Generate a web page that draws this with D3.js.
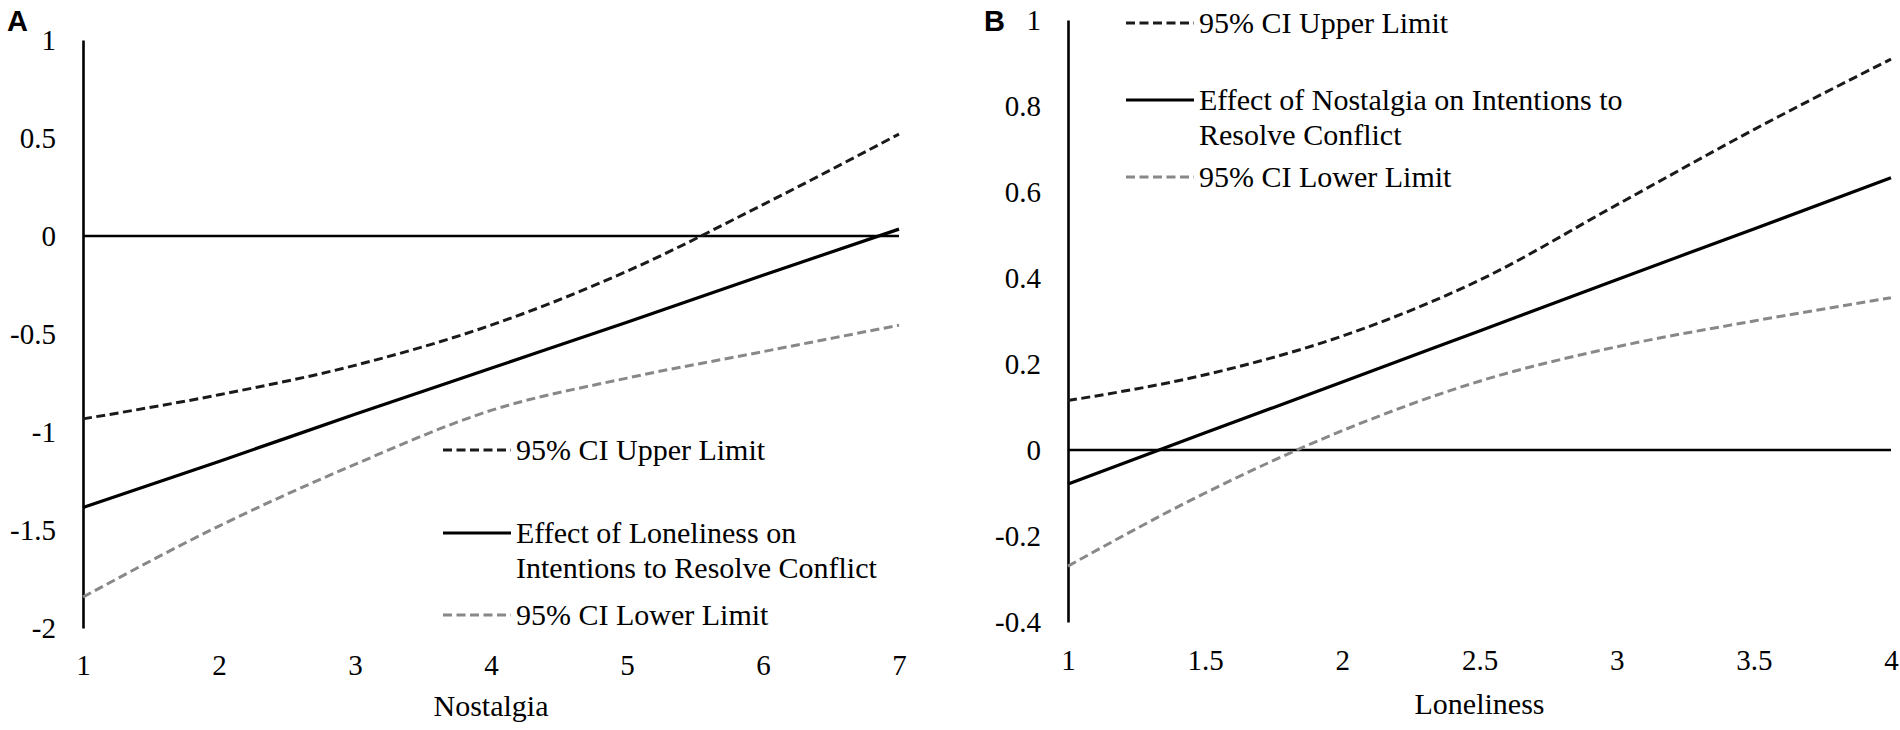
<!DOCTYPE html>
<html>
<head>
<meta charset="utf-8">
<script src="https://cdn.jsdelivr.net/npm/d3@7"></script>
<style>
  html, body { margin: 0; padding: 0; background: #ffffff; }
  svg { display: block; }
  svg text { font-family: "Liberation Serif", "Times New Roman", serif; }
  svg text.letter { font-family: "Liberation Sans", Arial, sans-serif; font-weight: bold; }
</style>
</head>
<body>
<svg id="chart" width="1900" height="730"></svg>
<script>
// ---------- Panel A data ----------
const panelAX = [1, 2, 3, 4, 5, 6, 7];
const panelAUpper = [-0.933, -0.81, -0.66, -0.455, -0.18, 0.16, 0.52];
const panelAEffect = [-1.385, -1.15, -0.91, -0.675, -0.44, -0.20, 0.035];
const panelALower = [-1.842, -1.48, -1.165, -0.89, -0.725, -0.59, -0.455];
const panelAYTicks = [1, 0.5, 0, -0.5, -1, -1.5, -2];
const panelAXTicks = [1, 2, 3, 4, 5, 6, 7];
const panelALegend = [
  ["95% CI Upper Limit"],
  ["Effect of Loneliness on", "Intentions to Resolve Conflict"],
  ["95% CI Lower Limit"]
];
const panelATitle = "Nostalgia";

// ---------- Panel B data ----------
const panelBX = [1, 1.5, 2, 2.5, 3, 3.5, 4];
const panelBUpper = [0.115, 0.175, 0.265, 0.395, 0.57, 0.745, 0.909];
const panelBEffect = [-0.079, 0.04, 0.158, 0.277, 0.396, 0.514, 0.633];
const panelBLower = [-0.27, -0.10, 0.045, 0.16, 0.24, 0.30, 0.354];
const panelBYTicks = [1, 0.8, 0.6, 0.4, 0.2, 0, -0.2, -0.4];
const panelBXTicks = [1, 1.5, 2, 2.5, 3, 3.5, 4];
const panelBLegend = [
  ["95% CI Upper Limit"],
  ["Effect of Nostalgia on Intentions to", "Resolve Conflict"],
  ["95% CI Lower Limit"]
];
const panelBTitle = "Loneliness";

const seriesStyles = [
  { color: "#1a1a1a", dash: "9,4.5", width: 3 },
  { color: "#000000", dash: null, width: 3.2 },
  { color: "#888888", dash: "9,4.5", width: 3 }
];

const svg = d3.select("#chart");
const serif = "\"Liberation Serif\", \"Times New Roman\", serif";

function drawPanel(cfg) {
  const g = svg.append("g");
  const x = d3.scaleLinear().domain(cfg.xDomain).range(cfg.xRange);
  const y = d3.scaleLinear().domain(cfg.yDomain).range(cfg.yRange);

  // y axis
  const yAxis = d3.axisLeft(y).tickValues(cfg.yTicks).tickSize(0).tickPadding(27)
    .tickFormat(d => String(d));
  const ya = g.append("g").attr("transform", `translate(${x(cfg.xDomain[0])},0)`).call(yAxis);
  ya.attr("font-family", null);
  ya.select(".domain").attr("stroke", "#000").attr("stroke-width", 2.6);
  ya.selectAll("text").style("font-family", serif).attr("font-size", 29).attr("fill", "#000");

  // x axis labels (low position)
  const xAxis = d3.axisBottom(x).tickValues(cfg.xTicks).tickSize(0).tickPadding(cfg.xPad)
    .tickFormat(d => String(d));
  const xa = g.append("g").attr("transform", `translate(0,${y(cfg.yDomain[0])})`).call(xAxis);
  xa.attr("font-family", null);
  xa.select(".domain").remove();
  xa.selectAll("text").style("font-family", serif).attr("font-size", 29).attr("fill", "#000");

  // zero line
  g.append("line")
    .attr("x1", x(cfg.xDomain[0])).attr("x2", x(cfg.xDomain[1]))
    .attr("y1", y(0)).attr("y2", y(0))
    .attr("stroke", "#000").attr("stroke-width", 2.6);

  // series
  const line = d3.line().x(d => x(d[0])).y(d => y(d[1])).curve(d3.curveMonotoneX);
  cfg.series.forEach((vals, i) => {
    const st = seriesStyles[i];
    g.append("path")
      .datum(cfg.xs.map((xv, j) => [xv, vals[j]]))
      .attr("d", line)
      .attr("fill", "none")
      .attr("stroke", st.color)
      .attr("stroke-width", st.width)
      .attr("stroke-dasharray", st.dash);
  });

  // legend
  cfg.legend.forEach((lines, i) => {
    const st = seriesStyles[i];
    const cy = cfg.legendRows[i];
    g.append("line")
      .attr("x1", cfg.legendX).attr("x2", cfg.legendX + 68)
      .attr("y1", cy).attr("y2", cy)
      .attr("stroke", st.color).attr("stroke-width", st.width)
      .attr("stroke-dasharray", st.dash);
    const t = g.append("text")
      .style("font-family", serif).attr("font-size", 30).attr("fill", "#000")
      .attr("x", cfg.legendX + 73).attr("y", cy + 10);
    lines.forEach((ln, k) => {
      t.append("tspan").attr("x", cfg.legendX + 73).attr("dy", k === 0 ? 0 : 35).text(ln);
    });
  });

  // axis title
  g.append("text")
    .attr("x", (x(cfg.xDomain[0]) + x(cfg.xDomain[1])) / 2)
    .attr("y", cfg.titleY)
    .attr("text-anchor", "middle")
    .style("font-family", serif).attr("font-size", 30).attr("fill", "#000")
    .text(cfg.title);

  // panel letter
  g.append("text")
    .attr("class", "letter")
    .attr("x", cfg.letterX).attr("y", 31)
    .attr("font-size", 29).attr("fill", "#000")
    .text(cfg.letter);
}

drawPanel({
  xs: panelAX,
  series: [panelAUpper, panelAEffect, panelALower],
  xDomain: [1, 7], xRange: [83, 899],
  yDomain: [-2, 1], yRange: [628, 40],
  yTicks: panelAYTicks, xTicks: panelAXTicks, xPad: 26,
  legend: panelALegend, legendX: 443, legendRows: [450, 533, 615],
  title: panelATitle, titleY: 716,
  letter: "A", letterX: 7
});

drawPanel({
  xs: panelBX,
  series: [panelBUpper, panelBEffect, panelBLower],
  xDomain: [1, 4], xRange: [1068, 1891],
  yDomain: [-0.4, 1], yRange: [622, 20],
  yTicks: panelBYTicks, xTicks: panelBXTicks, xPad: 27,
  legend: panelBLegend, legendX: 1126, legendRows: [23, 100, 177],
  title: panelBTitle, titleY: 714,
  letter: "B", letterX: 984
});
</script>
</body>
</html>
